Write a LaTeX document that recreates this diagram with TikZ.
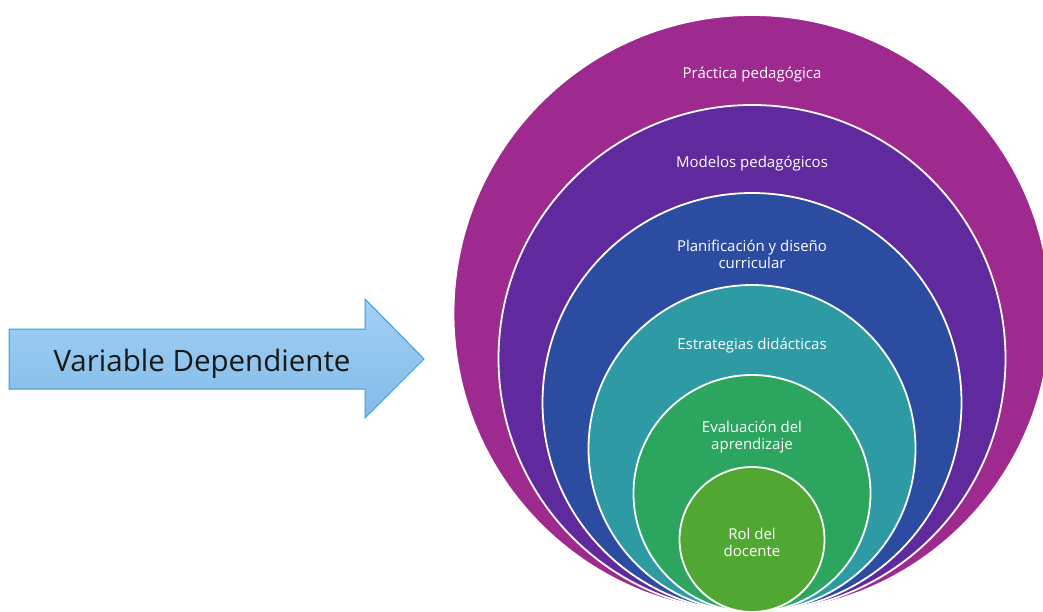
\documentclass[tikz,border=0pt]{standalone}
\usepackage{fontspec}
\setmainfont{Open Sans}
\definecolor{cPractica}{RGB}{159,42,143}
\definecolor{cModelos}{RGB}{96,42,158}
\definecolor{cPlan}{RGB}{44,76,161}
\definecolor{cEstr}{RGB}{46,154,164}
\definecolor{cEval}{RGB}{44,166,94}
\definecolor{cRol}{RGB}{80,168,50}
\definecolor{arrowtop}{RGB}{162,208,243}
\definecolor{arrowbot}{RGB}{130,187,234}
\definecolor{arrowline}{RGB}{58,160,216}

\begin{document}
\begin{tikzpicture}[x=1pt,y=-1pt,
        ring/.style={draw=white,line width=1.8pt},
        ringtext/.style={text=white,font=\fontsize{15}{17}\selectfont,align=center,inner sep=0pt}]
        \useasboundingbox(0,0)rectangle(1043,612);
        \clip(0,0)rectangle(1043,612);

        % arrow
        \draw[draw=arrowline,line width=1pt,top color=arrowtop,bottom color=arrowbot](9,329)--(365,329)--(365,299)--(424,359)--(365,418)--(365,389)--(9,389)--cycle;
        \node[anchor=base,text=black!90,font=\fontsize{29.5}{33}\selectfont](var)at(202,371){Variable Dependiente};

        % nested circles, all touching at the bottom
        \fill[ring,fill=cPractica](752,313.5)circle[radius=298.5pt];
        \fill[ring,fill=cModelos](752,358.5)circle[radius=253.5pt];
        \fill[ring,fill=cPlan](752,402.5)circle[radius=209.5pt];
        \fill[ring,fill=cEstr](752,448.5)circle[radius=163.5pt];
        \fill[ring,fill=cEval](752,493.5)circle[radius=118.5pt];
        \fill[ring,fill=cRol](752,539.5)circle[radius=72.5pt];

        \node[ringtext,anchor=base](prac)at(752,79){Práctica pedagógica};
        \node[ringtext,anchor=base](mod)at(752,168){Modelos pedagógicos};
        \node[ringtext](plan)at(752,254){Planificación y diseño\\curricular};
        \node[ringtext,anchor=base](estr)at(752,349){Estrategias didácticas};
        \node[ringtext](eval)at(752,437){Evaluación del\\aprendizaje};
        \node[ringtext](rol)at(752,542){Rol del\\docente};
    \end{tikzpicture}
\end{document}
